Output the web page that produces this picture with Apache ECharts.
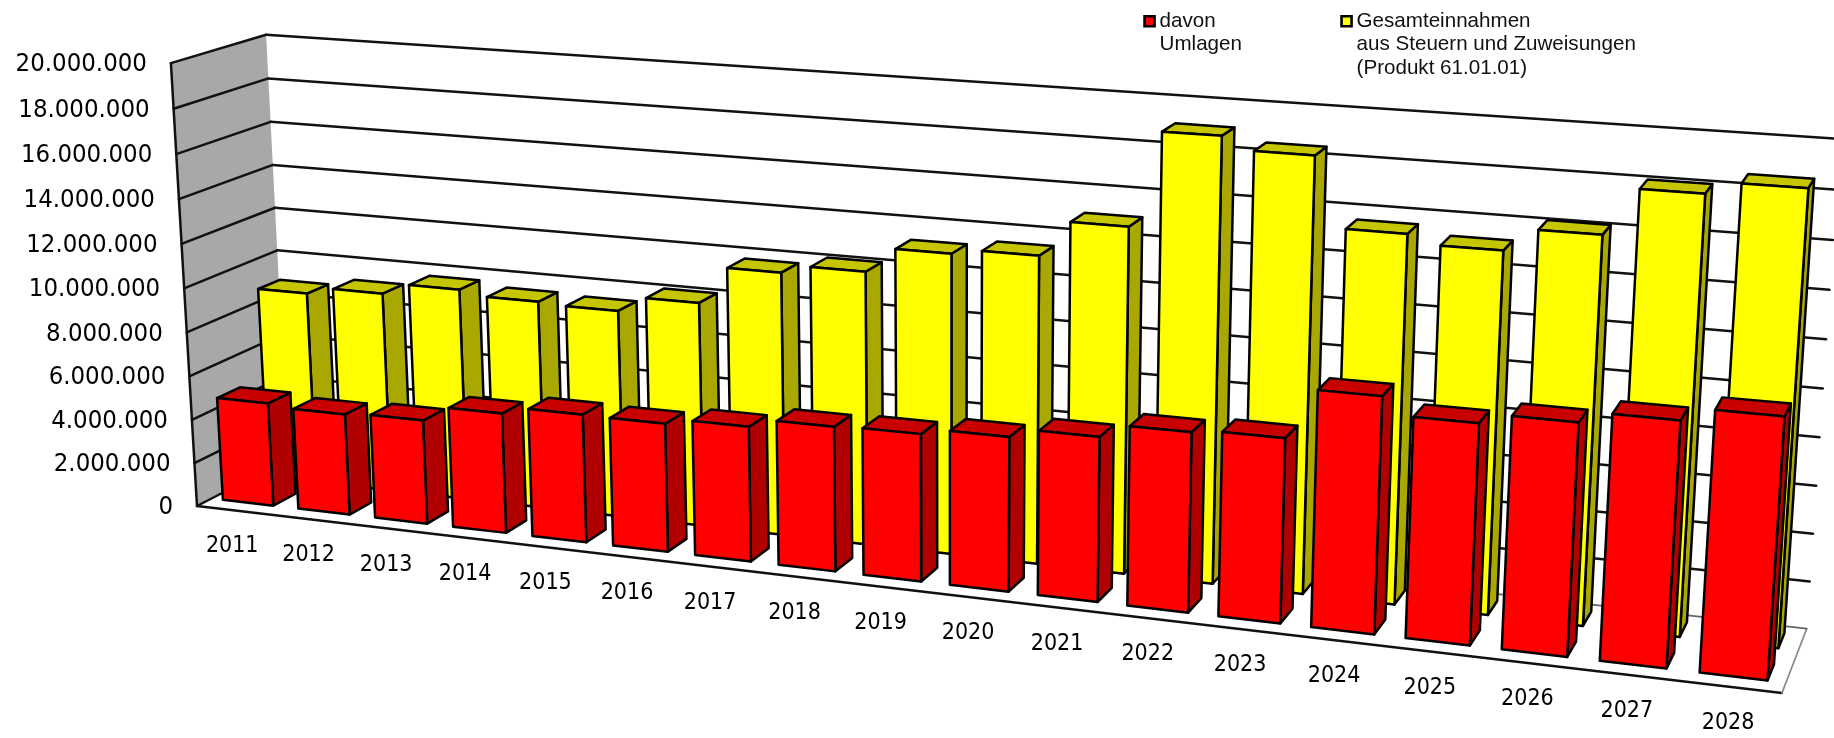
<!DOCTYPE html>
<html><head><meta charset="utf-8">
<style>html,body{margin:0;padding:0;background:#fff}#c{width:1834px;height:738px}</style>
<script src="https://cdn.jsdelivr.net/npm/echarts@6/dist/echarts.min.js"></script>
</head><body><div id="c"></div>
<script>
const categories = ['2011','2012','2013','2014','2015','2016','2017','2018','2019','2020','2021','2022','2023','2024','2025','2026','2027','2028'];
const gesamt = [8850000,9170000,9680000,9460000,9380000,10070000,11730000,12090000,13180000,13410000,14940000,18990000,18460000,15550000,15180000,16120000,18050000,18550000];
const umlagen = [4740000,4610000,4710000,5400000,5730000,5700000,5950000,6330000,6400000,6660000,7050000,7630000,7770000,9870000,9150000,9560000,10020000,10550000];
const yTicks = [0,2000000,4000000,6000000,8000000,10000000,12000000,14000000,16000000,18000000,20000000];
const yTickLabels = ['0','2.000.000','4.000.000','6.000.000','8.000.000','10.000.000','12.000.000','14.000.000','16.000.000','18.000.000','20.000.000'];
const nameU = 'davon\nUmlagen';
const nameG = 'Gesamteinnahmen\naus Steuern und Zuweisungen\n(Produkt 61.01.01)';

const W = 1834, H = 738;
// perspective camera: origin + three vanishing points with their weights
const O = [197, 506];
const VX = [-9000, -579], AX = -0.147;
const VY = [952, 13322], AY = -0.0334;
const VZ = [2265, -562], AZ = 0.04603;
function persp(u, v, w) {
  const d = 1 + AX*u + AY*v + AZ*w;
  return [(O[0] + AX*u*VX[0] + AY*v*VY[0] + AZ*w*VZ[0]) / d,
          (O[1] + AX*u*VX[1] + AY*v*VY[1] + AZ*w*VZ[1]) / d];
}
// goes through the library's axes, then through the camera
function pt(api, cat, val, depth) {
  const c = api.coord([cat, val]);
  return persp(c[0] / W, 1 - c[1] / H, depth);
}
const DEPTH_U = [0.155, 0.40], DEPTH_G = [0.65, 0.89];

function barRender(colors, depth, left, right) {
  return function (params, api) {
    const i = api.value(0), val = api.value(1);
    const x0 = i + left, x1 = i + right, z0 = depth[0], z1 = depth[1];
    const st = f => ({ fill: f, stroke: '#000', lineWidth: 2.5, lineJoin: 'round' });
    const poly = (pts, f) => ({ type: 'polygon', shape: { points: pts }, style: st(f) });
    return { type: 'group', children: [
      poly([pt(api,x1,0,z0), pt(api,x1,0,z1), pt(api,x1,val,z1), pt(api,x1,val,z0)], colors[1]),
      poly([pt(api,x0,val,z0), pt(api,x1,val,z0), pt(api,x1,val,z1), pt(api,x0,val,z1)], colors[2]),
      poly([pt(api,x0,0,z0), pt(api,x1,0,z0), pt(api,x1,val,z0), pt(api,x0,val,z0)], colors[0])
    ]};
  };
}
const seg = (a, b, color, lw) => ({ type: 'line', shape: { x1:a[0], y1:a[1], x2:b[0], y2:b[1] }, style: { stroke: color, lineWidth: lw, lineCap:'round' } });
const xEnd = categories.length;
const legendText = { fontFamily: 'Liberation Sans', fontSize: 20.6, lineHeight: 23.7, color: '#111' };

const chart = echarts.init(document.getElementById('c'), null, { renderer: 'canvas', width: W, height: H });
chart.setOption({
  animation: false,
  backgroundColor: '#fff',
  grid: { left: 0, right: 0, top: 0, bottom: 0 },
  xAxis: { type: 'value', min: 0, max: xEnd, show: false },
  yAxis: { type: 'value', min: 0, max: 20000000, interval: 2000000, show: false },
  legend: [
    { data: [nameU], left: 1143.25, top: 8, padding: 0, selectedMode: false, itemWidth: 10, itemHeight: 47, itemGap: 0,
      icon: 'path://M0 0L0 0M0 7H10V17H0ZM0 47L0 47', itemStyle: { borderColor: '#000', borderWidth: 2.6 }, textStyle: legendText },
    { data: [nameG], left: 1340.25, top: 8, padding: 0, selectedMode: false, itemWidth: 10, itemHeight: 71, itemGap: 0,
      icon: 'path://M0 0L0 0M0 7H10V17H0ZM0 71L0 71', itemStyle: { borderColor: '#000', borderWidth: 2.6 }, textStyle: legendText }
  ],
  series: [
    { type: 'custom', name: 'walls', silent: true, coordinateSystem: 'cartesian2d',
      data: [[0, 0]],
      renderItem: (p, api) => ({ type: 'group', children: [
        { type: 'polygon', shape: { points: [pt(api,0,0,0), pt(api,0,0,1), pt(api,0,20000000,1), pt(api,0,20000000,0)] }, style: { fill: '#a8a8a8' } },
        seg(pt(api,0,0,0), pt(api,0,20000000,0), '#111', 2.5),
        seg(pt(api,0,0,0), pt(api,xEnd,0,0), '#111', 2.5),
        seg(pt(api,xEnd,0,0), pt(api,xEnd,0,1), '#8c8c8c', 1.8),
        seg(pt(api,0,0,1), pt(api,xEnd,0,1), '#666', 1.8)
      ]})
    },
    { type: 'custom', name: 'grid', silent: true, coordinateSystem: 'cartesian2d',
      data: yTicks.map(v => [0, v]),
      renderItem: (p, api) => {
        const v = api.value(1);
        return { type: 'group', children: [
          seg(pt(api,0,v,0), pt(api,0,v,1), '#111', 2.5),
          ...(v > 0 ? [seg(pt(api,0,v,1), pt(api,xEnd,v,1), '#111', 2.5)] : [])
        ]};
      }
    },
    { type: 'custom', name: nameG, silent: true, coordinateSystem: 'cartesian2d',
      itemStyle: { color: '#ffff00' },
      data: gesamt.map((v, i) => [i, v]),
      renderItem: barRender(['#ffff00', '#a8a800', '#c6c600'], DEPTH_G, 0.15, 0.80) },
    { type: 'custom', name: nameU, silent: true, coordinateSystem: 'cartesian2d',
      itemStyle: { color: '#ff0000' },
      data: umlagen.map((v, i) => [i, v]),
      renderItem: barRender(['#ff0000', '#b00000', '#c80000'], DEPTH_U, 0.15, 0.82) },
    { type: 'custom', name: 'yLabels', silent: true, coordinateSystem: 'cartesian2d',
      data: yTicks.map((v, i) => [0, v, i]),
      renderItem: (p, api) => {
        const a = pt(api, 0, api.value(1), 0);
        return { type: 'text', style: { text: yTickLabels[api.value(2)], x: a[0] - 24, y: a[1] + 1.5, align: 'right', verticalAlign: 'middle',
          fontFamily: '"DejaVu Sans Condensed", "DejaVu Sans"', fontSize: 25.5, fill: '#000' } };
      }
    },
    { type: 'custom', name: 'xLabels', silent: true, coordinateSystem: 'cartesian2d',
      data: categories.map((c, i) => [i, 0]),
      renderItem: (p, api) => {
        const i = api.value(0);
        const a = pt(api, i + 0.5, 0, 0);
        return { type: 'text', style: { text: categories[i], x: a[0] - 2.5, y: a[1] + 36, align: 'center', verticalAlign: 'middle',
          fontFamily: '"DejaVu Sans Condensed", "DejaVu Sans"', fontSize: 23, fill: '#000' } };
      }
    }
  ]
});
</script></body></html>
